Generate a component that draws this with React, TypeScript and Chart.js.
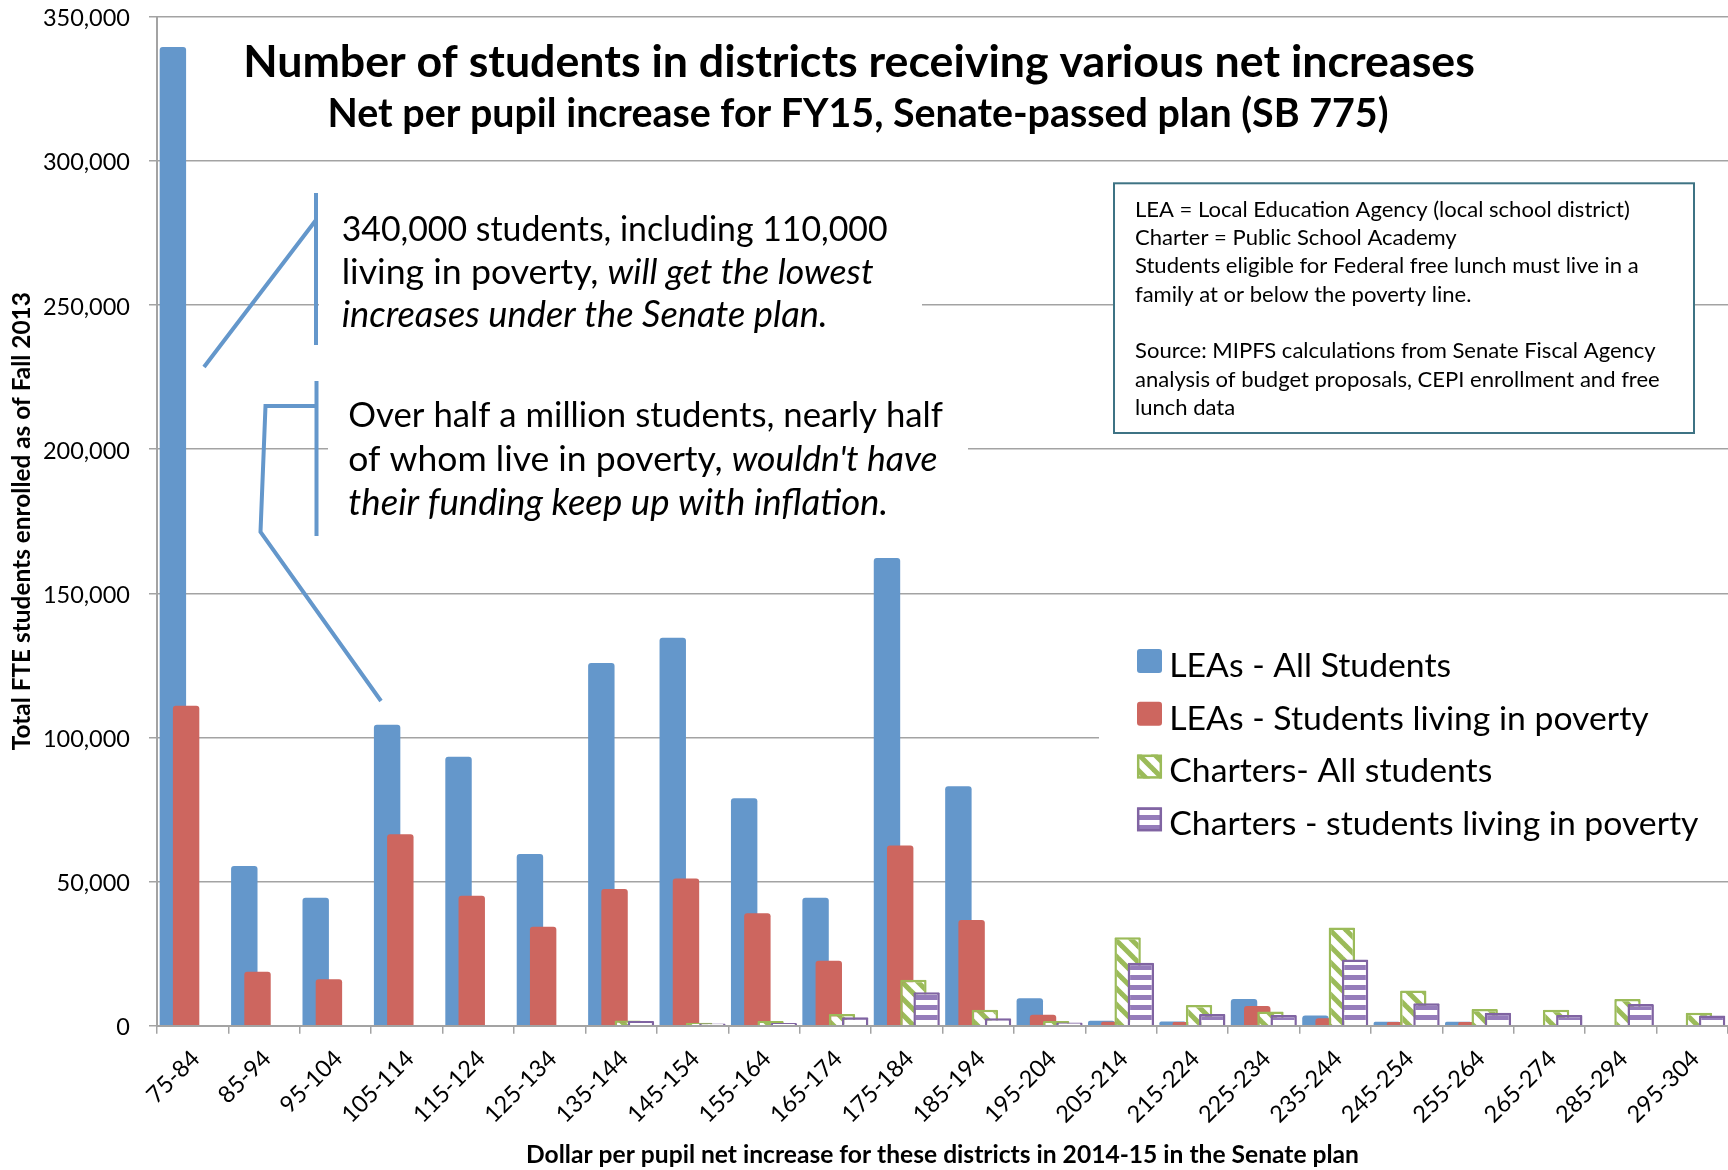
import React, { useEffect, useRef } from 'react';
import { Chart, registerables } from 'chart.js';

Chart.register(...registerables);

// ---------- data ----------
const categories = [
  '75-84', '85-94', '95-104', '105-114', '115-124', '125-134', '135-144', '145-154',
  '155-164', '165-174', '175-184', '185-194', '195-204', '205-214', '215-224', '225-234',
  '235-244', '245-254', '255-264', '265-274', '285-294', '295-304',
];

const seriesNames = [
  'LEAs - All Students',
  'LEAs - Students living in poverty',
  'Charters- All students',
  'Charters - students living in poverty',
];

const leaAll = [339500, 55400, 44400, 104400, 93300, 59600, 125800, 134600, 78900, 44400, 162200, 83100, 9500, 1700, 1500, 9300, 3500, 1400, 1400, 0, 0, 0];
const leaPoverty = [111000, 18700, 16100, 66400, 45100, 34300, 47400, 51100, 39000, 22500, 62500, 36700, 3800, 1400, 1300, 6800, 2600, 1300, 1300, 0, 0, 0];
const charterAll = [0, 0, 0, 0, 0, 0, 1800, 1000, 1600, 4100, 15900, 5500, 1600, 30700, 7200, 4900, 34100, 12200, 5800, 5500, 9300, 4500];
const charterPoverty = [0, 0, 0, 0, 0, 0, 1600, 800, 900, 2900, 11600, 2600, 1100, 21800, 4100, 3700, 23000, 7800, 4500, 3700, 7500, 3500];

const yMax = 350000;
const yStep = 50000;

const titleLines = [
  'Number of students in districts receiving various net increases',
  'Net per pupil increase for FY15, Senate-passed plan (SB 775)',
];
const yTitle = 'Total FTE students enrolled as of Fall 2013';
const xTitle = 'Dollar per pupil net increase for these districts in 2014-15 in the Senate plan';

type Seg = { t: string; i?: boolean };
const note1: Seg[][] = [
  [{ t: '340,000 students, including 110,000' }],
  [{ t: 'living in poverty, ' }, { t: 'will get the lowest', i: true }],
  [{ t: 'increases under the Senate plan.', i: true }],
];
const note2: Seg[][] = [
  [{ t: 'Over half a million students, nearly half' }],
  [{ t: 'of whom live in poverty, ' }, { t: "wouldn't have", i: true }],
  [{ t: 'their funding keep up with inflation.', i: true }],
];
const infoLines = [
  'LEA = Local Education Agency (local school district)',
  'Charter = Public School Academy',
  'Students eligible for Federal free lunch must live in a',
  'family at or below the poverty line.',
  '',
  'Source: MIPFS calculations from Senate Fiscal Agency',
  'analysis of budget proposals, CEPI enrollment and free',
  'lunch data',
];

// ---------- styles ----------
const BLUE = '#6497CB';
const RED = '#CD665F';
const GREEN = '#9BBB59';
const PURPLE_BORDER = '#8064A2';
const PURPLE_STRIPE = '#957CBA';
const GRID = '#A3A3A3';
const FONT = 'Lato';

function makeDiagPattern(color: string) {
  const s = 16;
  const c = document.createElement('canvas');
  c.width = s; c.height = s;
  const g = c.getContext('2d')!;
  g.fillStyle = '#fff';
  g.fillRect(0, 0, s, s);
  g.strokeStyle = color;
  g.lineWidth = 5;
  for (const o of [-s, 0, s]) {
    g.beginPath();
    g.moveTo(o - 3, -3);
    g.lineTo(o + s + 3, s + 3);
    g.stroke();
  }
  return g.createPattern(c, 'repeat')!;
}

function makeHorizPattern(color: string) {
  const c = document.createElement('canvas');
  c.width = 10; c.height = 10;
  const g = c.getContext('2d')!;
  g.fillStyle = '#fff';
  g.fillRect(0, 0, 10, 10);
  g.fillStyle = color;
  g.fillRect(0, 5, 10, 5);
  return g.createPattern(c, 'repeat')!;
}

function fontStr(size: number, italic?: boolean, bold?: boolean) {
  return `${italic ? 'italic ' : ''}${bold ? 'bold ' : ''}${size}px ${FONT}`;
}
function measureSegs(ctx: CanvasRenderingContext2D, segs: Seg[], size: number, bold?: boolean) {
  let w = 0;
  for (const s of segs) {
    ctx.font = fontStr(size, s.i, bold);
    w += ctx.measureText(s.t).width;
  }
  return w;
}
function fitSize(ctx: CanvasRenderingContext2D, lines: Seg[][], targets: number[], bold?: boolean) {
  let acc = 0;
  for (let k = 0; k < lines.length; k++) acc += targets[k] / measureSegs(ctx, lines[k], 100, bold);
  return (acc / lines.length) * 100;
}
function drawSegs(ctx: CanvasRenderingContext2D, segs: Seg[], x: number, y: number, size: number, bold?: boolean) {
  let cx = x;
  for (const s of segs) {
    ctx.font = fontStr(size, s.i, bold);
    ctx.fillText(s.t, cx, y);
    cx += ctx.measureText(s.t).width;
  }
}

const drawOrderPlugin = {
  id: 'drawOrder',
  beforeDatasetsDraw(chart: any) {
    const metas = chart.getSortedVisibleDatasetMetas();
    for (let i = 0; i < metas.length; i++) metas[i].controller.draw();
    return false;
  },
};

function makeOverlay(patterns: { green: CanvasPattern; purple: CanvasPattern }) {
  return {
    id: 'overlay',
    afterDraw(chart: any) {
      const ctx: CanvasRenderingContext2D = chart.ctx;
      ctx.save();
      ctx.textAlign = 'left';
      ctx.textBaseline = 'alphabetic';

      // Title
      ctx.fillStyle = '#000';
      ctx.textAlign = 'center';
      const t1 = fitSize(ctx, [[{ t: titleLines[0] }]], [1232], true);
      ctx.font = fontStr(t1, false, true);
      ctx.fillText(titleLines[0], 859, 77);
      const t2 = fitSize(ctx, [[{ t: titleLines[1] }]], [1061], true);
      ctx.font = fontStr(t2, false, true);
      ctx.fillText(titleLines[1], 858, 126.5);
      ctx.textAlign = 'left';

      // annotation boxes (white)
      ctx.fillStyle = '#fff';
      ctx.fillRect(319, 193, 922 - 319, 345 - 193);
      ctx.fillRect(328, 381, 968 - 328, 536 - 381);

      // callout lines
      ctx.strokeStyle = BLUE;
      ctx.lineWidth = 4;
      ctx.lineJoin = 'miter';
      ctx.beginPath();
      ctx.moveTo(316, 193); ctx.lineTo(316, 345);
      ctx.moveTo(316, 220); ctx.lineTo(204, 367);
      ctx.stroke();
      ctx.beginPath();
      ctx.moveTo(316.5, 381); ctx.lineTo(316.5, 536);
      ctx.stroke();
      ctx.beginPath();
      ctx.moveTo(316.5, 406); ctx.lineTo(265.5, 406); ctx.lineTo(260.5, 532); ctx.lineTo(381, 701);
      ctx.stroke();

      // annotation text (each line fitted to its measured width)
      ctx.fillStyle = '#000';
      const w1 = [546, 532, 486];
      note1.forEach((ln, k) => drawSegs(ctx, ln, 341.7, 240.7 + k * 43.2, fitSize(ctx, [ln], [w1[k]])));
      const w2 = [595, 589.5, 540];
      note2.forEach((ln, k) => drawSegs(ctx, ln, 348.3, 427 + k * 44, fitSize(ctx, [ln], [w2[k]])));

      // info box
      ctx.fillStyle = '#fff';
      ctx.fillRect(1114, 183.3, 580, 249.7);
      ctx.strokeStyle = '#3E7384';
      ctx.lineWidth = 2;
      ctx.strokeRect(1114, 183.3, 580, 249.7);
      ctx.fillStyle = '#000';
      const si = fitSize(
        ctx,
        [[{ t: infoLines[0] }], [{ t: infoLines[2] }], [{ t: infoLines[5] }], [{ t: infoLines[6] }]],
        [489, 509, 518, 529],
      );
      ctx.font = fontStr(si);
      infoLines.forEach((ln, k) => {
        if (ln) ctx.fillText(ln, 1135, 216.7 + k * 28.35);
      });

      // legend
      ctx.fillStyle = '#fff';
      ctx.fillRect(1099, 628, 1728 - 1099, 858 - 628);
      const sl = fitSize(
        ctx,
        seriesNames.map((n) => [{ t: n }]),
        [277.3, 480.4, 324, 535.6],
      );
      const fills: (string | CanvasPattern)[] = [BLUE, RED, patterns.green, patterns.purple];
      const borders = [BLUE, RED, GREEN, PURPLE_BORDER];
      seriesNames.forEach((n, k) => {
        const base = 676.7 + k * 52.8;
        const sy = base - 15.7 - 12;
        ctx.fillStyle = fills[k];
        ctx.beginPath();
        (ctx as any).roundRect(1137, sy, 25, 24, k < 2 ? 3 : 1);
        ctx.fill();
        if (k >= 2) {
          ctx.strokeStyle = borders[k];
          ctx.lineWidth = 2.5;
          ctx.strokeRect(1138.2, sy + 1.2, 22.6, 21.6);
        }
        ctx.fillStyle = '#000';
        ctx.font = fontStr(sl);
        ctx.fillText(n, 1169.3, base);
      });

      ctx.restore();
    },
  };
}

export default function App() {
  const ref = useRef<HTMLCanvasElement>(null);

  useEffect(() => {
    const canvas = ref.current!;
    const ctx = canvas.getContext('2d')!;
    const green = makeDiagPattern(GREEN);
    const purple = makeHorizPattern(PURPLE_STRIPE);

    Chart.defaults.font.family = FONT;
    Chart.defaults.color = '#000';

    const chart = new Chart(ctx, {
      type: 'bar',
      data: {
        labels: categories,
        datasets: [
          { label: seriesNames[0], data: leaAll, backgroundColor: BLUE, borderWidth: 0, borderRadius: 3 },
          { label: seriesNames[1], data: leaPoverty, backgroundColor: RED, borderWidth: 0, borderRadius: 3 },
          {
            label: seriesNames[2], data: charterAll, backgroundColor: green, borderColor: GREEN,
            borderWidth: (c: any) => (c.raw ? 2.5 : 0), borderRadius: 1,
          },
          {
            label: seriesNames[3], data: charterPoverty, backgroundColor: purple, borderColor: PURPLE_BORDER,
            borderWidth: (c: any) => (c.raw ? 2.5 : 0), borderRadius: 1,
          },
        ] as any,
      },
      options: {
        responsive: false,
        devicePixelRatio: 1,
        animation: false,
        datasets: { bar: { categoryPercentage: 0.74, barPercentage: 2 } },
        layout: { padding: { top: 16.7, left: 0, right: -3, bottom: 0 } },
        plugins: { legend: { display: false }, title: { display: false }, tooltip: { enabled: false } },
        scales: {
          x: {
            type: 'category',
            offset: true,
            grid: {
              display: true, drawOnChartArea: false, drawTicks: true, tickLength: 8,
              color: GRID, lineWidth: 1.5, offset: true,
            },
            border: { display: true, color: GRID, width: 2 },
            ticks: {
              autoSkip: false, maxRotation: 45, minRotation: 45, padding: 11, labelOffset: 3,
              font: { family: FONT, size: 23.5 }, color: '#000',
            },
            title: {
              display: true, text: xTitle, color: '#000',
              font: { family: FONT, size: 24.6, weight: 'bold' }, padding: { top: 0, bottom: 0 },
            },
            afterFit: (s: any) => { s.height = 144.3; s.paddingLeft = 0; s.paddingRight = 0; },
          },
          y: {
            type: 'linear',
            min: 0,
            max: yMax,
            grid: { color: GRID, lineWidth: 1.5, tickLength: 8, drawTicks: true },
            border: { display: true, color: GRID, width: 2 },
            ticks: {
              stepSize: yStep, padding: 19, labelOffset: 2,
              font: { family: FONT, size: 23.5 }, color: '#000',
              callback: (v: any) => Number(v).toLocaleString('en-US'),
            },
            title: {
              display: true, text: yTitle, color: '#000',
              font: { family: FONT, size: 24.4, weight: 'bold' }, padding: { top: 7.5, bottom: 0 },
            },
            afterFit: (s: any) => { s.width = 157; s.paddingTop = 0; s.paddingBottom = 0; },
          },
        },
      } as any,
      plugins: [drawOrderPlugin, makeOverlay({ green, purple })],
    });

    return () => chart.destroy();
  }, []);

  return (
    <div style={{ position: 'fixed', left: 0, top: 0, width: 1728, height: 1170, background: '#fff' }}>
      <canvas ref={ref} width={1728} height={1170} style={{ display: 'block', width: 1728, height: 1170 }} />
    </div>
  );
}
